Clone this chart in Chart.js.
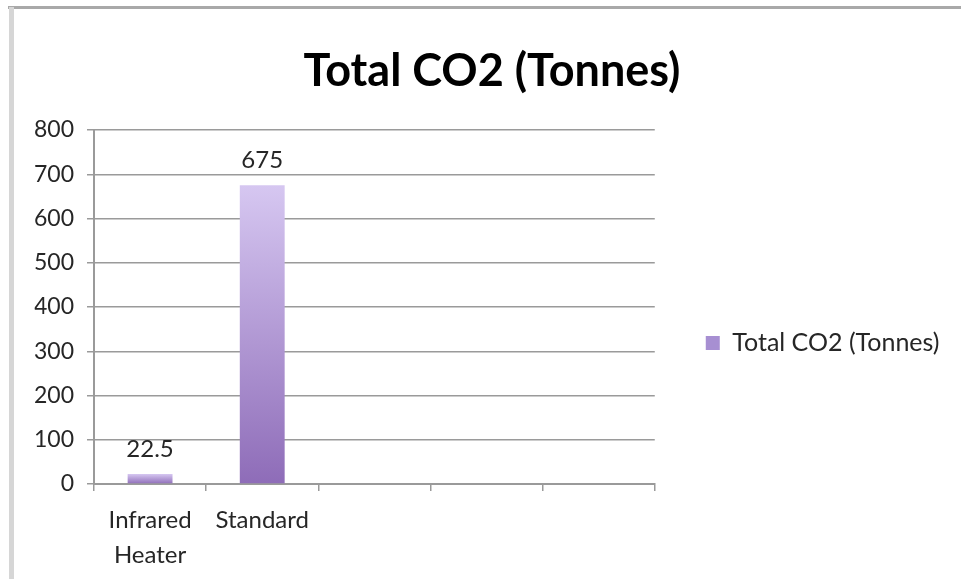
<!DOCTYPE html>
<html>
<head>
<meta charset="utf-8">
<script src="https://cdn.jsdelivr.net/npm/chart.js@4/dist/chart.umd.min.js"></script>
<style>
  html, body { margin: 0; padding: 0; background: #ffffff; }
  #wrap { position: relative; width: 961px; height: 579px; overflow: hidden; background: #fff; }
  #box { position: absolute; left: 0; top: 0; width: 961px; height: 579px; }
  #topLine { position: absolute; left: 8px; top: 6px; width: 953px; height: 3px; background: #a9a9a9; }
  #leftLine { position: absolute; left: 9px; top: 7px; width: 5px; height: 572px; background: #d6d6d6; }
</style>
</head>
<body>
<div id="wrap">
  <div id="box"><canvas id="c"></canvas></div>
  <div id="topLine"></div>
  <div id="leftLine"></div>
</div>
<script>
// ---- data ----
const categories = [["Infrared", "Heater"], "Standard", "", "", ""];
const seriesName = "Total CO2 (Tonnes)";
const seriesValues = [22.5, 675, null, null, null];
const valueLabels = ["22.5", "675", "", "", ""];
const yTicks = [0, 100, 200, 300, 400, 500, 600, 700, 800];
const chartTitle = "Total CO2 (Tonnes)";

const FONT = "Lato, 'Open Sans', sans-serif";
const TEXT = "#262626";
const SOLID = '#a78fd2';

function barFill(ctx) {
  const chart = ctx.chart;
  if (ctx.type !== 'data' || ctx.parsed == null || ctx.parsed.y == null || !chart.scales.y) {
    return SOLID;
  }
  const y = chart.scales.y;
  const top = y.getPixelForValue(ctx.parsed.y);
  const bottom = y.getPixelForValue(0);
  if (!isFinite(top) || !isFinite(bottom) || top === bottom) return SOLID;
  const g = chart.ctx.createLinearGradient(0, top, 0, bottom);
  g.addColorStop(0, '#d6c7f1');
  g.addColorStop(1, '#8e6cb8');
  return g;
}

const valueLabelPlugin = {
  id: 'valueLabels',
  afterDatasetsDraw(chart) {
    const meta = chart.getDatasetMeta(0);
    const c = chart.ctx;
    c.save();
    c.font = "24px " + FONT;
    c.fillStyle = TEXT;
    c.textAlign = 'center';
    c.textBaseline = 'middle';
    meta.data.forEach((el, i) => {
      if (seriesValues[i] == null) return;
      c.fillText(valueLabels[i], el.x, el.y - 25);
    });
    c.restore();
  }
};

new Chart(document.getElementById('c'), {
  type: 'bar',
  data: {
    labels: categories,
    datasets: [{
      label: seriesName,
      data: seriesValues,
      backgroundColor: barFill,
      borderWidth: 0,
      categoryPercentage: 1.0,
      barPercentage: 0.4
    }]
  },
  options: {
    responsive: true,
    maintainAspectRatio: false,
    animation: false,
    layout: { padding: { top: 0, right: 11.5, bottom: 0, left: 34.5 } },
    plugins: {
      title: {
        display: true,
        text: chartTitle,
        color: '#000',
        font: { family: FONT, size: 45, weight: 'bold', lineHeight: 1.2 },
        padding: { top: 44, bottom: 32 }
      },
      legend: {
        display: true,
        position: 'right',
        maxWidth: 320,
        title: {
          display: true,
          text: ' ',
          font: { size: 2, lineHeight: 1 },
          padding: { top: 105, bottom: 0 }
        },
        labels: {
          boxWidth: 14,
          boxHeight: 14,
          color: TEXT,
          font: { family: FONT, size: 25 },
          padding: 51,
          generateLabels(chart) {
            const items = Chart.defaults.plugins.legend.labels.generateLabels(chart);
            items.forEach(it => { it.fillStyle = SOLID; it.strokeStyle = SOLID; it.lineWidth = 0; });
            return items;
          }
        }
      },
      tooltip: { enabled: false }
    },
    scales: {
      x: {
        offset: true,
        grid: {
          display: true,
          drawOnChartArea: false,
          drawTicks: true,
          tickLength: 7,
          color: '#9a9a9a',
          lineWidth: 1.5,
          offset: true
        },
        border: { display: true, color: '#9a9a9a', width: 2 },
        ticks: {
          color: TEXT,
          font: { family: FONT, size: 24, lineHeight: 1.45 },
          padding: 12,
          maxRotation: 0,
          autoSkip: false
        },
        afterFit(scale) { scale.height = 95; }
      },
      y: {
        min: 0,
        max: 800,
        afterBuildTicks(scale) { scale.ticks = yTicks.map(v => ({ value: v })); },
        grid: {
          color: '#9a9a9a',
          lineWidth: 1.5,
          tickLength: 7,
          drawTicks: true
        },
        border: { display: true, color: '#9a9a9a', width: 2 },
        ticks: {
          color: TEXT,
          font: { family: FONT, size: 23 },
          padding: 13
        },
        afterFit(scale) { scale.width = 59.5; }
      }
    }
  },
  plugins: [valueLabelPlugin]
});
</script>
</body>
</html>
